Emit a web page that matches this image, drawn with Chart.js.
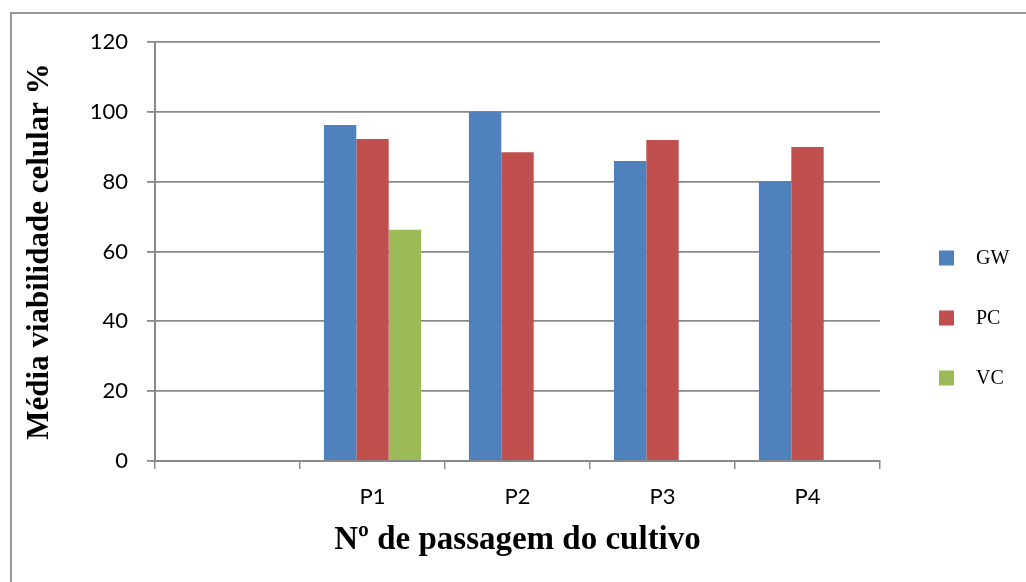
<!DOCTYPE html>
<html>
<head>
<meta charset="utf-8">
<script src="https://cdn.jsdelivr.net/npm/chart.js@4/dist/chart.umd.min.js"></script>
<style>
  html, body { margin: 0; padding: 0; background: #fff; overflow: hidden; }
  #frame { position: absolute; left: 10px; top: 12px; width: 1100px; height: 700px;
           border-left: 2px solid #979797; border-top: 2px solid #979797; }
  #c { position: absolute; left: 0; top: 0; }
</style>
</head>
<body>
<div id="frame"></div>
<canvas id="c" width="1026" height="582"></canvas>
<script>
// Cell viability by culture passage
const categories = ['', 'P1', 'P2', 'P3', 'P4'];
const gwValues = [null, 96.2, 100, 85.9, 80.1];
const pcValues = [null, 92.2, 88.4, 91.9, 89.9];
const vcValues = [null, 66.2, null, null, null];
const yTicks = [0, 20, 40, 60, 80, 100, 120];

const gridGray = '#898989';

// Legend drawn as a vertical list to the right of the plot
const sideLegend = {
  id: 'sideLegend',
  afterDraw(chart) {
    const ctx = chart.ctx;
    const area = chart.chartArea;
    const boxX = area.right + 59;
    const textX = area.right + 96;
    const firstY = area.top + 216;
    const step = 60;
    ctx.save();
    ctx.font = '20px "Liberation Serif", "Times New Roman", serif';
    ctx.textBaseline = 'middle';
    ctx.textAlign = 'left';
    chart.data.datasets.forEach((ds, i) => {
      const cy = firstY + i * step;
      ctx.fillStyle = ds.backgroundColor;
      ctx.fillRect(boxX, cy - 7.5, 15, 15);
      ctx.fillStyle = '#000';
      ctx.fillText(ds.label, textX, cy + 1);
    });
    ctx.restore();
  }
};

new Chart(document.getElementById('c'), {
  type: 'bar',
  data: {
    labels: categories,
    datasets: [
      { label: 'GW', data: gwValues, backgroundColor: '#4F81BD' },
      { label: 'PC', data: pcValues, backgroundColor: '#C0504D' },
      { label: 'VC', data: vcValues, backgroundColor: '#9BBB59' }
    ]
  },
  options: {
    responsive: false,
    animation: false,
    events: [],
    categoryPercentage: 0.67,
    barPercentage: 1.0,
    layout: { padding: { left: 21, right: 146, top: 42, bottom: 0 } },
    plugins: {
      legend: { display: false },
      tooltip: { enabled: false }
    },
    scales: {
      x: {
        grid: {
          offset: true,
          drawOnChartArea: false,
          drawTicks: true,
          tickLength: 8,
          color: gridGray,
          lineWidth: 1.5
        },
        border: { color: gridGray, width: 2 },
        ticks: {
          color: '#000',
          padding: 15,
          font: { family: 'Lato, "Open Sans", sans-serif', size: 22 }
        },
        title: {
          display: true,
          text: 'Nº de passagem do cultivo',
          color: '#000',
          font: { family: '"Liberation Serif", "Times New Roman", serif', size: 33, weight: 'bold' },
          padding: { top: 0, bottom: 22 }
        },
        afterFit(scale) { scale.height = 121; }
      },
      y: {
        min: 0,
        max: 120,
        afterBuildTicks(scale) { scale.ticks = yTicks.map(v => ({ value: v })); },
        grid: {
          color: gridGray,
          lineWidth: 1.8,
          tickLength: 8
        },
        border: { color: gridGray, width: 2 },
        ticks: {
          color: '#000',
          padding: 19,
          font: { family: 'Lato, "Open Sans", sans-serif', size: 22 }
        },
        title: {
          display: true,
          text: 'Média viabilidade celular %',
          color: '#000',
          font: { family: '"Liberation Serif", "Times New Roman", serif', size: 31, weight: 'bold' },
          padding: { top: 0, bottom: 0 }
        },
        afterFit(scale) { scale.width = 134; }
      }
    }
  },
  plugins: [sideLegend]
});
</script>
</body>
</html>
